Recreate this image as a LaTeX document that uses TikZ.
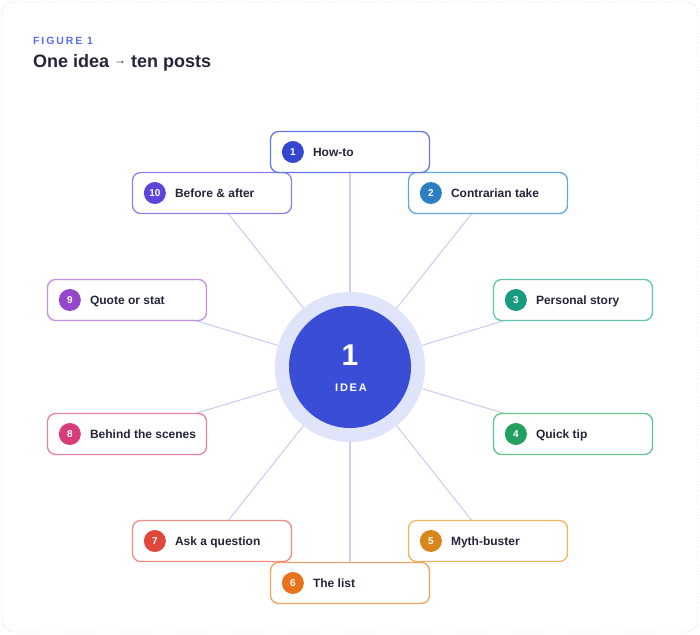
\documentclass[tikz,border=0pt]{standalone}
\usepackage{fontspec}
\setmainfont{Liberation Sans}
\usetikzlibrary{positioning,backgrounds}

\definecolor{ink}{HTML}{23263A}
\definecolor{figblue}{HTML}{5B6EE8}
\definecolor{spokecol}{HTML}{CBD0F2}
\definecolor{halocol}{HTML}{E0E4FA}
\definecolor{ideacol}{HTML}{3A4DD6}
\definecolor{framecol}{HTML}{D4D7E0}
% number fill / box border for each post
\definecolor{numA}{HTML}{3547D0}\definecolor{edgeA}{HTML}{6577E8}
\definecolor{numB}{HTML}{2D7FC4}\definecolor{edgeB}{HTML}{5BA8E0}
\definecolor{numC}{HTML}{1A9A80}\definecolor{edgeC}{HTML}{5EC4AE}
\definecolor{numD}{HTML}{23A060}\definecolor{edgeD}{HTML}{60C48C}
\definecolor{numE}{HTML}{D8861C}\definecolor{edgeE}{HTML}{F0B45C}
\definecolor{numF}{HTML}{E8731C}\definecolor{edgeF}{HTML}{F2A060}
\definecolor{numG}{HTML}{E0483C}\definecolor{edgeG}{HTML}{F28A84}
\definecolor{numH}{HTML}{D63C78}\definecolor{edgeH}{HTML}{EA80A8}
\definecolor{numI}{HTML}{9646CC}\definecolor{edgeI}{HTML}{C08EE4}
\definecolor{numJ}{HTML}{5B45DC}\definecolor{edgeJ}{HTML}{8C80EC}

\begin{document}
\begin{tikzpicture}[x=1pt,y=-1pt,
	post/.style={draw=#1,line width=1.3pt,fill=white,rounded corners=8pt,
		minimum width=159pt,minimum height=41pt,inner sep=0pt},
	num/.style={circle,fill=#1,text=white,minimum size=22pt,inner sep=0pt,
		font=\bfseries\fontsize{10}{10}\selectfont},
	tag/.style={anchor=west,text=ink,inner sep=0pt,text height=8.5pt,text depth=0pt,
		font=\bfseries\fontsize{12}{14}\selectfont},
	spoke/.style={draw=spokecol,line width=1.1pt}]
		
		\useasboundingbox (0,0) rectangle (700,634);
		\draw[framecol,dotted,line width=0.8pt,rounded corners=12pt] (2,2) rectangle (698,632);
		
		% title
		\node[anchor=base west,inner sep=0pt,text=figblue,
		font=\bfseries\fontsize{10.5}{12}\selectfont\addfontfeature{LetterSpace=18}]
		(fig) at (33,45) {FIGURE 1};
		\node[anchor=base west,inner sep=0pt,text=ink,font=\bfseries\fontsize{18}{21}\selectfont]
		(title) at (33,67) {One idea \raisebox{2.5pt}{\fontsize{12}{12}\selectfont →} ten posts};
		
		% centre
		\coordinate (ctr) at (350,367);
		\node[circle,fill=halocol,minimum size=150pt,inner sep=0pt] (halo) at (ctr) {};
		\node[circle,fill=ideacol,minimum size=122pt,inner sep=0pt] (idea) at (ctr) {};
		\node[text=white,inner sep=0pt,font=\bfseries\fontsize{30}{31}\selectfont] (ideanum) at (350,355.5) {1};
		\node[text=white,inner sep=0pt,font=\bfseries\fontsize{11}{13}\selectfont\addfontfeature{LetterSpace=16}]
		(idealbl) at (351,388) {IDEA};
		
		% posts
		\node[post=edgeJ] (p10) at (212,193) {};
		\node[post=edgeB] (p2) at (488,193) {};
		\node[post=edgeA] (p1) at (350,152) {};
		\node[post=edgeI] (p9) at (127,300) {};
		\node[post=edgeC] (p3) at (573,300) {};
		\node[post=edgeH] (p8) at (127,434) {};
		\node[post=edgeD] (p4) at (573,434) {};
		\node[post=edgeG] (p7) at (212,541) {};
		\node[post=edgeE] (p5) at (488,541) {};
		\node[post=edgeF] (p6) at (350,583) {};
		
		\node[num=numA] (n1) at ([xshift=23pt]p1.west) {1};
		\node[num=numB] (n2) at ([xshift=23pt]p2.west) {2};
		\node[num=numC] (n3) at ([xshift=23pt]p3.west) {3};
		\node[num=numD] (n4) at ([xshift=23pt]p4.west) {4};
		\node[num=numE] (n5) at ([xshift=23pt]p5.west) {5};
		\node[num=numF] (n6) at ([xshift=23pt]p6.west) {6};
		\node[num=numG] (n7) at ([xshift=23pt]p7.west) {7};
		\node[num=numH] (n8) at ([xshift=23pt]p8.west) {8};
		\node[num=numI] (n9) at ([xshift=23pt]p9.west) {9};
		\node[num=numJ] (n10) at ([xshift=23pt]p10.west) {10};
		
		\node[tag] (t1) at ([xshift=43pt]p1.west) {How-to};
		\node[tag] (t2) at ([xshift=43pt]p2.west) {Contrarian take};
		\node[tag] (t3) at ([xshift=43pt]p3.west) {Personal story};
		\node[tag] (t4) at ([xshift=43pt]p4.west) {Quick tip};
		\node[tag] (t5) at ([xshift=43pt]p5.west) {Myth-buster};
		\node[tag] (t6) at ([xshift=43pt]p6.west) {The list};
		\node[tag] (t7) at ([xshift=43pt]p7.west) {Ask a question};
		\node[tag] (t8) at ([xshift=43pt]p8.west) {Behind the scenes};
		\node[tag] (t9) at ([xshift=43pt]p9.west) {Quote or stat};
		\node[tag] (t10) at ([xshift=43pt]p10.west) {Before \& after};
		
		% spokes behind everything
		\begin{pgfonlayer}{background}
			\draw[spoke] (ctr) -- (p1.center);
			\draw[spoke] (ctr) -- (p2.center);
			\draw[spoke] (ctr) -- (p3.center);
			\draw[spoke] (ctr) -- (p4.center);
			\draw[spoke] (ctr) -- (p5.center);
			\draw[spoke] (ctr) -- (p6.center);
			\draw[spoke] (ctr) -- (p7.center);
			\draw[spoke] (ctr) -- (p8.center);
			\draw[spoke] (ctr) -- (p9.center);
			\draw[spoke] (ctr) -- (p10.center);
		\end{pgfonlayer}
		
	\end{tikzpicture}
\end{document}
